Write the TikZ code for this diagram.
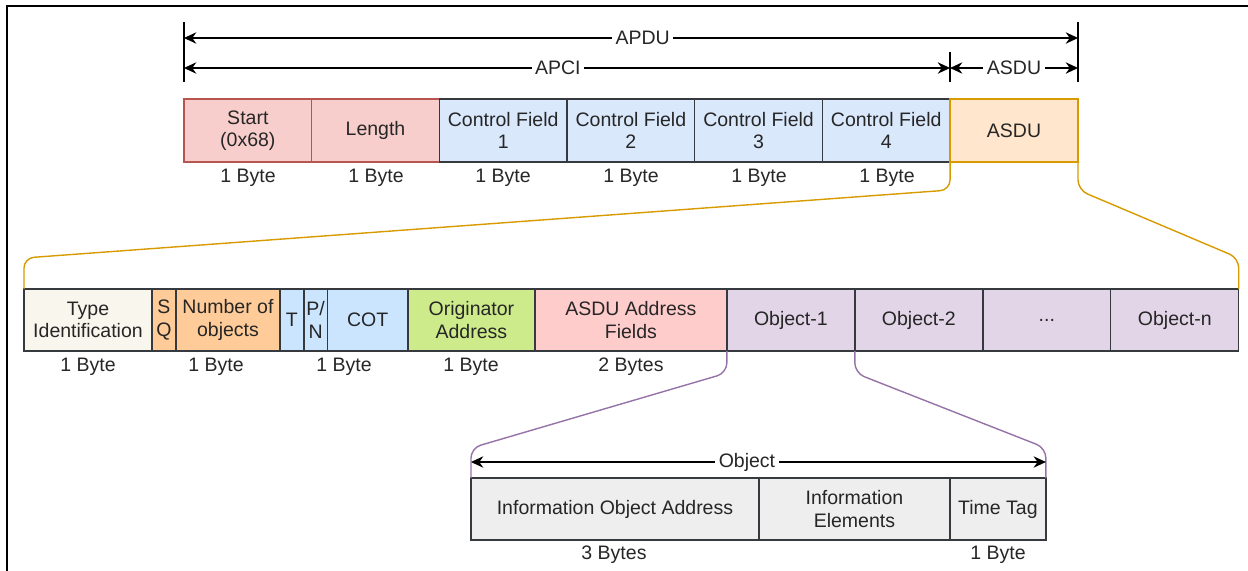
\documentclass[tikz,border=0pt]{standalone}
\usepackage{fontspec}
\setmainfont{Liberation Sans}
\usetikzlibrary{arrows.meta,positioning}

\definecolor{redfill}{HTML}{F8CECC}
\definecolor{redline}{HTML}{B85450}
\definecolor{bluefill}{HTML}{DAE8FC}
\definecolor{asdufill}{HTML}{FFE6CC}
\definecolor{asduline}{HTML}{D79B00}
\definecolor{fieldline}{HTML}{36393D}
\definecolor{creamfill}{HTML}{F9F7ED}
\definecolor{orangefill}{HTML}{FFCC99}
\definecolor{cotfill}{HTML}{CCE5FF}
\definecolor{greenfill}{HTML}{CDEB8B}
\definecolor{pinkfill}{HTML}{FFCCCC}
\definecolor{objfill}{HTML}{E1D5E7}
\definecolor{objline}{HTML}{9673A6}
\definecolor{grayfill}{HTML}{EEEEEE}

\begin{document}
\begin{tikzpicture}[x=0.02cm, y=-0.02cm,
    font=\fontsize{11.1}{12.6}\selectfont,
    field/.style={draw=fieldline, line width=0.8pt, inner sep=0pt, outer sep=0pt,
        minimum height=1.26cm, align=center, text=black!85},
    row/.style={field, minimum height=1.24cm},
    bytes/.style={inner sep=1pt, text=black!85},
    dimline/.style={line width=0.7pt, {Stealth[length=7pt,width=6.5pt]}-{Stealth[length=7pt,width=6.5pt]}},
    dimlabel/.style={fill=white, inner sep=2pt, text=black!85},
    tick/.style={line width=0.7pt},
    zoomline/.style={line width=0.8pt, rounded corners=0.2cm}]
    \useasboundingbox (0,0) rectangle (1248,571);

    % Frame
    \draw[line width=1.2pt] (7,571) -- (7,6) -- (1248,6);

    % APDU
    \node[field, fill=redfill, draw=redline, minimum width=2.554cm, anchor=north west] (start) at (184,99) {Start\\(0x68)};
    \node[field, fill=redfill, draw=redline, minimum width=2.554cm, right=0pt of start] (len) {Length};
    \node[field, fill=bluefill, minimum width=2.554cm, right=0pt of len] (cf1) {Control Field\\1};
    \node[field, fill=bluefill, minimum width=2.554cm, right=0pt of cf1] (cf2) {Control Field\\2};
    \node[field, fill=bluefill, minimum width=2.554cm, right=0pt of cf2] (cf3) {Control Field\\3};
    \node[field, fill=bluefill, minimum width=2.554cm, right=0pt of cf3] (cf4) {Control Field\\4};
    \node[field, fill=asdufill, draw=asduline, minimum width=2.56cm, right=0pt of cf4] (asdu) {ASDU};

    \node[bytes] (bstart) at (248,178) {1 Byte};
    \node[bytes] (blen) at (376,178) {1 Byte};
    \node[bytes] (bcf1) at (503,178) {1 Byte};
    \node[bytes] (bcf2) at (631,178) {1 Byte};
    \node[bytes] (bcf3) at (759,178) {1 Byte};
    \node[bytes] (bcf4) at (887,178) {1 Byte};

    % Dimensions
    \draw[tick] ([yshift=1.54cm]start.north west) -- ([yshift=0.34cm]start.north west);
    \draw[tick] ([yshift=1.54cm]asdu.north east) -- ([yshift=0.34cm]asdu.north east);
    \draw[tick] ([yshift=0.94cm]asdu.north west) -- ([yshift=0.34cm]asdu.north west);
    \draw[dimline] ([yshift=1.22cm]start.north west) -- ([yshift=1.22cm]asdu.north east)
        node[dimlabel, pos=0.513] {APDU};
    \draw[dimline] ([yshift=0.62cm]start.north west) -- ([yshift=0.62cm]asdu.north west)
        node[dimlabel, pos=0.488] {APCI};
    \draw[dimline] ([yshift=0.62cm]asdu.north west) -- ([yshift=0.62cm]asdu.north east)
        node[dimlabel, pos=0.5] {ASDU};

    % ASDU
    \node[row, fill=creamfill, minimum width=2.56cm, anchor=north west] (type) at (24,289) {Type\\Identification};
    \node[row, fill=orangefill, minimum width=0.48cm, right=0pt of type] (sq) {S\\Q};
    \node[row, fill=orangefill, minimum width=2.08cm, right=0pt of sq] (num) {Number of\\objects};
    \node[row, fill=cotfill, minimum width=0.48cm, right=0pt of num] (t) {T};
    \node[row, fill=cotfill, minimum width=0.47cm, right=0pt of t] (pn) {P/\\N};
    \node[row, fill=cotfill, minimum width=1.61cm, right=0pt of pn] (cot) {COT};
    \node[row, fill=greenfill, minimum width=2.54cm, right=0pt of cot] (orig) {Originator\\Address};
    \node[row, fill=pinkfill, minimum width=3.84cm, right=0pt of orig] (addr) {ASDU Address\\Fields};
    \node[row, fill=objfill, minimum width=2.56cm, right=0pt of addr] (obj1) {Object-1};
    \node[row, fill=objfill, minimum width=2.56cm, right=0pt of obj1] (obj2) {Object-2};
    \node[row, fill=objfill, minimum width=2.56cm, right=0pt of obj2] (dots) {...};
    \node[row, fill=objfill, minimum width=2.56cm, right=0pt of dots] (objn) {Object-n};

    \node[bytes] (btype) at (88,367) {1 Byte};
    \node[bytes] (bnum) at (216,367) {1 Byte};
    \node[bytes] (bcot) at (344,367) {1 Byte};
    \node[bytes] (borig) at (471,367) {1 Byte};
    \node[bytes] (baddr) at (631,367) {2 Bytes};

    \draw[zoomline, asduline] (asdu.south west) -- ([yshift=-0.56cm]asdu.south west)
        -- ([yshift=0.62cm]type.north west) -- (type.north west);
    \draw[zoomline, asduline] (asdu.south east) -- ([yshift=-0.56cm]asdu.south east)
        -- ([yshift=0.62cm]objn.north east) -- (objn.north east);

    % Object
    \node[row, fill=grayfill, minimum width=5.76cm, anchor=north west] (ioa) at (471,478) {Information Object Address};
    \node[row, fill=grayfill, minimum width=3.82cm, right=0pt of ioa] (ie) {Information\\Elements};
    \node[row, fill=grayfill, minimum width=1.92cm, right=0pt of ie] (tag) {Time Tag};

    \node[bytes] (bioa) at (614,555) {3 Bytes};
    \node[bytes] (btag) at (998,555) {1 Byte};

    \draw[zoomline, objline] (obj1.south west) -- ([yshift=-0.44cm]obj1.south west)
        -- ([yshift=0.6cm]ioa.north west) -- (ioa.north west);
    \draw[zoomline, objline] (obj1.south east) -- ([yshift=-0.44cm]obj1.south east)
        -- ([yshift=0.6cm]tag.north east) -- (tag.north east);
    \draw[dimline] ([yshift=0.32cm]ioa.north west) -- ([yshift=0.32cm]tag.north east)
        node[dimlabel, pos=0.48] {Object};
\end{tikzpicture}
\end{document}
